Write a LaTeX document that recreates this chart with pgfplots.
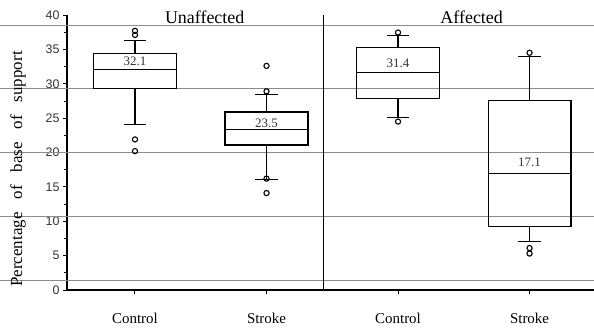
\documentclass[border=0pt]{standalone}
\usepackage{fontspec}
\setmainfont{Liberation Serif}
\newfontfamily\sansf{Liberation Sans}
\usepackage{pgfplots}
\pgfplotsset{compat=1.18}
\usepgfplotslibrary{statistics}
\begin{document}
\begin{tikzpicture}
\begin{axis}[
  scale only axis, width=527bp, height=275bp,
  at={(0,0)}, anchor=south west,
  xmin=0.483, xmax=4.49, ymin=0, ymax=40,
  boxplot/draw direction=y,
  axis x line=bottom, axis y line=left,
  axis line style={-, line width=1.2bp, black},
  clip=false,
  xtick={1,2,3,4},
  xticklabels={Control,Stroke,Control,Stroke},
  xticklabel style={font=\fontsize{15}{16}\selectfont, yshift=-16bp},
  x tick style={line width=1bp, black},
  major tick length=4bp,
  xtick pos=bottom,
  ytick={0,5,...,40},
  minor y tick num=1,
  ytick pos=left,
  tick align=outside,
  y tick style={line width=0.8bp, black},
  minor tick length=2.5bp,
  yticklabel style={font=\sansf\fontsize{12.5}{13}\selectfont, text=black!80},
  /pgf/number format/assume math mode=true,
]
% horizontal rules of the original figure
\pgfplotsinvokeforeach{1.35,10.76,20.03,29.34,38.55}{
  \draw[black!45, line width=0.7bp] ([xshift=-67bp]axis cs:0.483,#1) -- (axis cs:4.49,#1);
}
% divider
\draw[black, line width=1.1bp] (axis cs:2.43,0) -- (axis cs:2.43,40);

\addplot[black, line width=1.2bp, mark=o, mark size=2.6bp, mark options={line width=1.1bp},
  boxplot prepared={draw position=1, lower whisker=24.1, lower quartile=29.35,
    median=32.1, upper quartile=34.45, upper whisker=36.3,
    box extend=0.63, whisker extend=0.17}]
  table[row sep=\\, y index=0] {data\\ 37.7\\ 37.1\\ 21.9\\ 20.2\\};

\addplot[black, line width=1.2bp, mark=o, mark size=2.6bp, mark options={line width=1.1bp},
  boxplot prepared={draw position=2, lower whisker=16.1, lower quartile=21.1,
    median=23.3, upper quartile=25.9, upper whisker=28.4,
    box extend=0.63, whisker extend=0.17}]
  table[row sep=\\, y index=0] {data\\ 32.6\\ 28.9\\ 16.2\\ 14.1\\};

\addplot[black, line width=1.2bp, mark=o, mark size=2.6bp, mark options={line width=1.1bp},
  boxplot prepared={draw position=3, lower whisker=25.1, lower quartile=27.8,
    median=31.6, upper quartile=35.25, upper whisker=37.0,
    box extend=0.63, whisker extend=0.17}]
  table[row sep=\\, y index=0] {data\\ 37.45\\ 24.5\\};

\addplot[black, line width=1.2bp, mark=o, mark size=2.6bp, mark options={line width=1.1bp},
  boxplot prepared={draw position=4, lower whisker=7.1, lower quartile=9.2,
    median=17.0, upper quartile=27.6, upper whisker=34.0,
    box extend=0.63, whisker extend=0.17}]
  table[row sep=\\, y index=0] {data\\ 34.5\\ 6.1\\ 5.3\\};

% median value labels
\node[font=\fontsize{13}{14}\selectfont, text=black!80] at (axis cs:1,33.3) {32.1};
\node[font=\fontsize{13}{14}\selectfont, text=black!80] at (axis cs:2,24.3) {23.5};
\node[font=\fontsize{13}{14}\selectfont, text=black!80] at (axis cs:3,33.0) {31.4};
\node[font=\fontsize{13}{14}\selectfont, text=black!80] at (axis cs:4,18.5) {17.1};

% panel titles
\node[font=\fontsize{18}{19}\selectfont, anchor=base, inner sep=0pt] at (axis cs:1.53,38.7) {Unaffected};
\node[font=\fontsize{18}{19}\selectfont, anchor=base, inner sep=0pt] at (axis cs:3.56,38.7) {Affected};

% y label
\node[font=\fontsize{17}{18}\selectfont, rotate=90, inner sep=0pt]
  at ([xshift=-49bp]axis cs:0.483,17.6)
  {Percentage\hspace{13bp}of\hspace{13bp}base\hspace{13bp}of\hspace{13bp}support};
\end{axis}
\pgfresetboundingbox
\path[use as bounding box] (-67bp,-41bp) rectangle (527bp,290bp);
\end{tikzpicture}
\end{document}
